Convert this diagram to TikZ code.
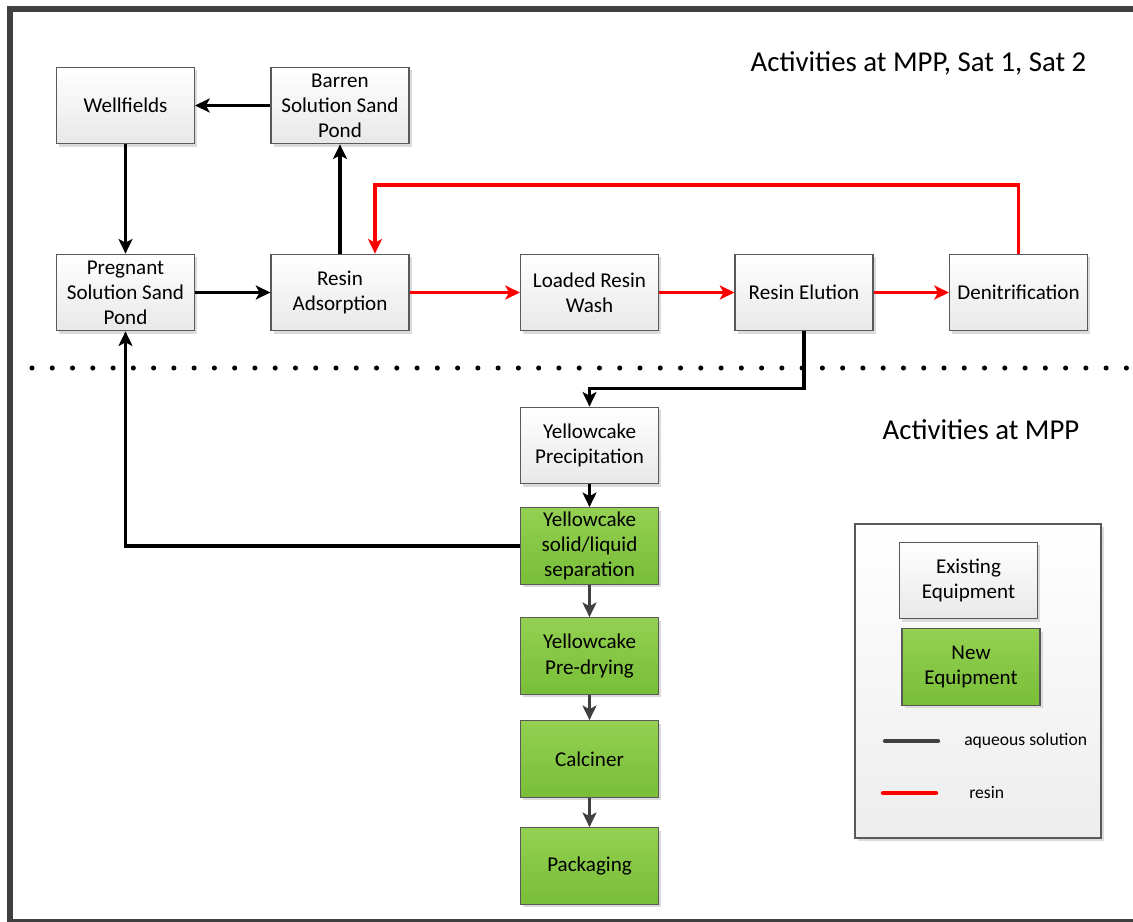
\documentclass[tikz,border=0pt]{standalone}
\usepackage{fontspec}
\setmainfont{Carlito}
\usetikzlibrary{arrows.meta,shadows}

\definecolor{framegray}{HTML}{404040}
\definecolor{newtop}{RGB}{148,208,82}
\definecolor{newbot}{RGB}{120,190,56}

\begin{document}
\begin{tikzpicture}[x=0.75pt, y=-0.75pt,
    box/.style={draw=black!65, line width=0.8pt, minimum width=103.5pt, minimum height=57.5pt,
      inner sep=1pt, align=center, font=\fontsize{15.8}{18.8}\selectfont,
      drop shadow={shadow xshift=2.2pt, shadow yshift=-2.2pt, fill=black!14, opacity=1}},
    oldbox/.style={box, top color=white, bottom color=black!9},
    newbox/.style={box, top color=newtop, bottom color=newbot},
    aq/.style={line width=2.3pt, -{Stealth[length=11pt, width=10.5pt, inset=2.8pt]}},
    aqgray/.style={aq, framegray},
    rs/.style={aq, red},
    title/.style={font=\fontsize{21.6}{25}\selectfont}]

    \useasboundingbox (0,0) rectangle (1133,922);
    \fill[white] (0,0) rectangle (1133,922);

    % Outer frame
    \draw[framegray, line width=4.5pt] (1133,8.5) -- (9.5,8.5) -- (9.5,921.5) -- (1133,921.5);

    % Upper row
    \node[oldbox] (wellfields) at (125.5,105.5) {Wellfields};
    \node[oldbox] (barren) at (340,105.5) {Barren\\Solution Sand\\Pond};
    \node[oldbox] (pregnant) at (125.5,292.5) {Pregnant\\Solution Sand\\Pond};
    \node[oldbox] (adsorption) at (340,292.5) {Resin\\Adsorption};
    \node[oldbox] (wash) at (589.5,292.5) {Loaded Resin\\Wash};
    \node[oldbox] (elution) at (804,292.5) {Resin Elution};
    \node[oldbox] (denit) at (1018.5,292.5) {Denitrification};

    % Split between the sites
    \draw[line width=3.8pt, line cap=round, dash pattern=on 0pt off 15.2pt] (32,368) -- (1133,368);

    \node[title, anchor=east] (sattitle) at (1091,63) {Activities at MPP, Sat 1, Sat 2};
    \node[title] (mpptitle) at (981,430) {Activities at MPP};

    % Yellowcake line
    \node[oldbox] (precip) at (589.5,445.5) {Yellowcake\\Precipitation};
    \node[newbox] (separation) at (589.5,546) {Yellowcake\\solid/liquid\\separation};
    \node[newbox] (predrying) at (589.5,656) {Yellowcake\\Pre-drying};
    \node[newbox] (calciner) at (589.5,759) {Calciner};
    \node[newbox] (packaging) at (589.5,866) {Packaging};

    % Solution flows
    \draw[aq] (barren) -- (wellfields);
    \draw[aq] (wellfields) -- (pregnant);
    \draw[aq] (pregnant) -- (adsorption);
    \draw[aq] (adsorption) -- (barren);
    \draw[aq] (elution.south) -- ++(0,57) -| (precip.north);
    \draw[aq] (precip) -- (separation);
    \draw[aq] (separation.west) -| (pregnant.south);
    \draw[aqgray] (separation) -- (predrying);
    \draw[aqgray] (predrying) -- (calciner);
    \draw[aqgray] (calciner) -- (packaging);

    % Resin flows
    \draw[rs] (adsorption) -- (wash);
    \draw[rs] (wash) -- (elution);
    \draw[rs] (elution) -- (denit);
    \coordinate (loop) at (1018.5,185);
    \draw[rs] (denit.north) -- (loop) -| ([xshift=26.25pt]adsorption.north);

    % Legend
    \node[draw=black!65, line width=0.8pt, minimum width=184.5pt, minimum height=235.5pt,
      top color=white, bottom color=black!7,
      drop shadow={shadow xshift=2.2pt, shadow yshift=-2.2pt, fill=black!14, opacity=1}]
      (legend) at (978,681) {};
    \node[oldbox] (existing) at (968.5,580.5) {Existing\\Equipment};
    \node[newbox] (new) at (971,667) {New\\Equipment};
    \coordinate (aqa) at (885,741);
    \coordinate (aqb) at (938,741);
    \coordinate (rsa) at (883,793);
    \coordinate (rsb) at (936,793);
    \draw[framegray, line width=3.2pt, line cap=round] (aqa) -- (aqb);
    \draw[red, line width=3.2pt, line cap=round] (rsa) -- (rsb);
    \node[anchor=west, inner sep=0pt, font=\fontsize{13.2}{15}\selectfont] (aqlabel) at (964,741) {aqueous solution};
    \node[anchor=west, inner sep=0pt, font=\fontsize{13.2}{15}\selectfont] (rslabel) at (969,793) {resin};
  \end{tikzpicture}
\end{document}
